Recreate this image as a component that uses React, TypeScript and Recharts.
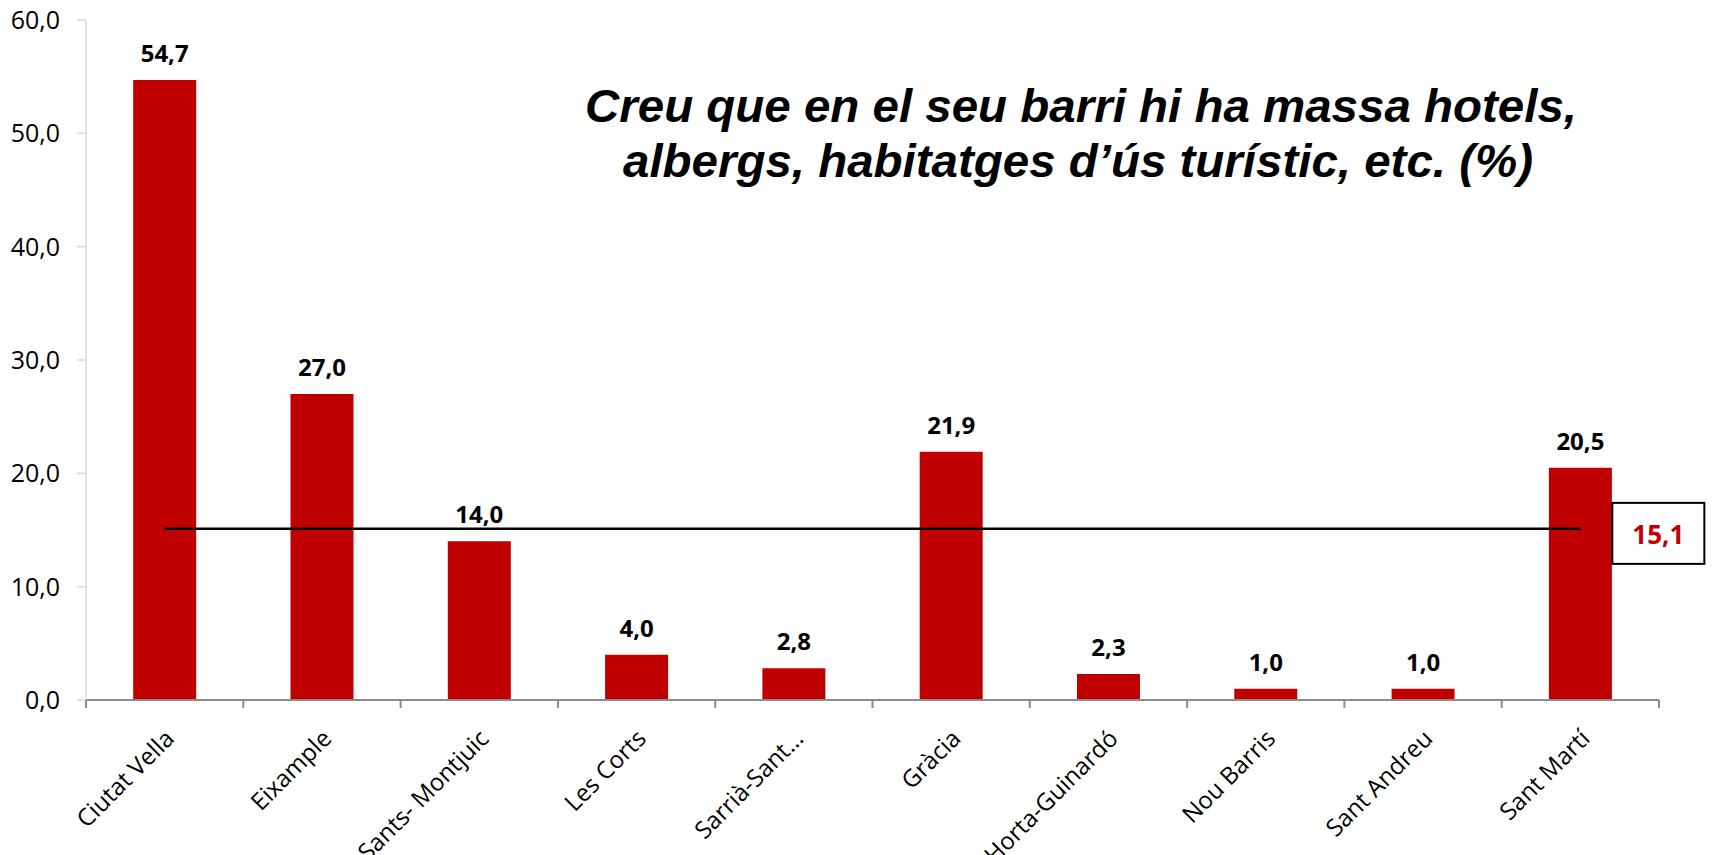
import React from "react";
import {
  Bar,
  ComposedChart,
  LabelList,
  Line,
  XAxis,
  YAxis,
} from "recharts";

const DISTRICTS = [
  "Ciutat Vella",
  "Eixample",
  "Sants- Montjuic",
  "Les Corts",
  "Sarrià-Sant…",
  "Gràcia",
  "Horta-Guinardó",
  "Nou Barris",
  "Sant Andreu",
  "Sant Martí",
];
const PERCENTS = [54.7, 27.0, 14.0, 4.0, 2.8, 21.9, 2.3, 1.0, 1.0, 20.5];
const CITY_MEAN = 15.1;
const Y_TICKS = [0, 10, 20, 30, 40, 50, 60];
const TITLE_LINES = [
  "Creu que en el seu barri hi ha massa hotels,",
  "albergs, habitatges d’ús turístic, etc. (%)",
];

const data = DISTRICTS.map((name, i) => ({
  name,
  value: PERCENTS[i],
  mean: CITY_MEAN,
}));

const fmt = (v: number) => v.toFixed(1).replace(".", ",");
const FONT = "'Open Sans', 'Noto Sans', sans-serif";
const RED = "#C00000";
const AXIS_GREY = "#8c8c8c";

function DistrictTick(props: any) {
  const { x, y, payload, index } = props;
  const half = payload.offset ?? 0;
  const last = index === DISTRICTS.length - 1;
  const tx = x + 11;
  const ty = y + 40;
  return (
    <g>
      <line x1={x - half} x2={x - half} y1={y} y2={y + 8} stroke={AXIS_GREY} strokeWidth={2} />
      {last && (
        <line x1={x + half} x2={x + half} y1={y} y2={y + 8} stroke={AXIS_GREY} strokeWidth={2} />
      )}
      <text
        x={tx}
        y={ty}
        textAnchor="end"
        transform={`rotate(-45, ${tx}, ${ty})`}
        fontSize={24}
        fontFamily={FONT}
        fill="#000"
      >
        {payload.value}
      </text>
    </g>
  );
}

function MeanBox(props: any) {
  const { x, y, index, value } = props;
  if (index !== DISTRICTS.length - 1) return null;
  return (
    <g>
      <rect x={x + 32} y={y - 26} width={92} height={61} fill="#fff" stroke="#000" strokeWidth={2} />
      <text
        x={x + 78}
        y={y + 5}
        textAnchor="middle"
        dominantBaseline="central"
        fontSize={26}
        fontWeight="bold"
        fontFamily={FONT}
        fill={RED}
      >
        {fmt(Number(value))}
      </text>
    </g>
  );
}

export default function App() {
  return (
    <div style={{ position: "relative", width: 1712, height: 855, background: "#fff" }}>
      <style>{"body{margin:0}"}</style>
      <ComposedChart
        width={1712}
        height={855}
        data={data}
        margin={{ top: 20, right: 53, bottom: 0, left: 0 }}
        barCategoryGap="30%"
      >
        <XAxis
          dataKey="name"
          interval={0}
          height={155}
          tickSize={0}
          tickMargin={0}
          tickLine={false}
          axisLine={{ stroke: AXIS_GREY, strokeWidth: 2 }}
          tick={<DistrictTick />}
        />
        <YAxis
          width={86}
          domain={[0, 60]}
          ticks={Y_TICKS}
          tickFormatter={fmt}
          tickSize={9}
          tickMargin={17}
          axisLine={{ stroke: "#d9d9d9", strokeWidth: 1.5 }}
          tickLine={{ stroke: "#d9d9d9", strokeWidth: 1.5 }}
          tick={{ fontSize: 25, fill: "#000", fontFamily: FONT }}
        />
        <Bar dataKey="value" fill={RED} isAnimationActive={false}>
          <LabelList
            dataKey="value"
            position="top"
            offset={18}
            formatter={(v: any) => fmt(Number(v))}
            style={{ fontSize: 24, fontWeight: "bold", fill: "#000", fontFamily: FONT }}
          />
        </Bar>
        <Line
          dataKey="mean"
          type="linear"
          stroke="#000"
          strokeWidth={2.5}
          dot={false}
          activeDot={false}
          isAnimationActive={false}
        >
          <LabelList dataKey="mean" content={<MeanBox />} />
        </Line>
      </ComposedChart>
      <svg
        width={1712}
        height={855}
        style={{ position: "absolute", left: 0, top: 0, pointerEvents: "none" }}
      >
        <text
          x={585}
          y={122}
          fontSize={47}
          fontWeight="bold"
          fontStyle="italic"
          fontFamily="'Liberation Sans', Arial, sans-serif"
          textLength={992}
          lengthAdjust="spacingAndGlyphs"
        >
          {TITLE_LINES[0]}
        </text>
        <text
          x={623}
          y={177}
          fontSize={47}
          fontWeight="bold"
          fontStyle="italic"
          fontFamily="'Liberation Sans', Arial, sans-serif"
          textLength={910}
          lengthAdjust="spacingAndGlyphs"
        >
          {TITLE_LINES[1]}
        </text>
      </svg>
    </div>
  );
}
